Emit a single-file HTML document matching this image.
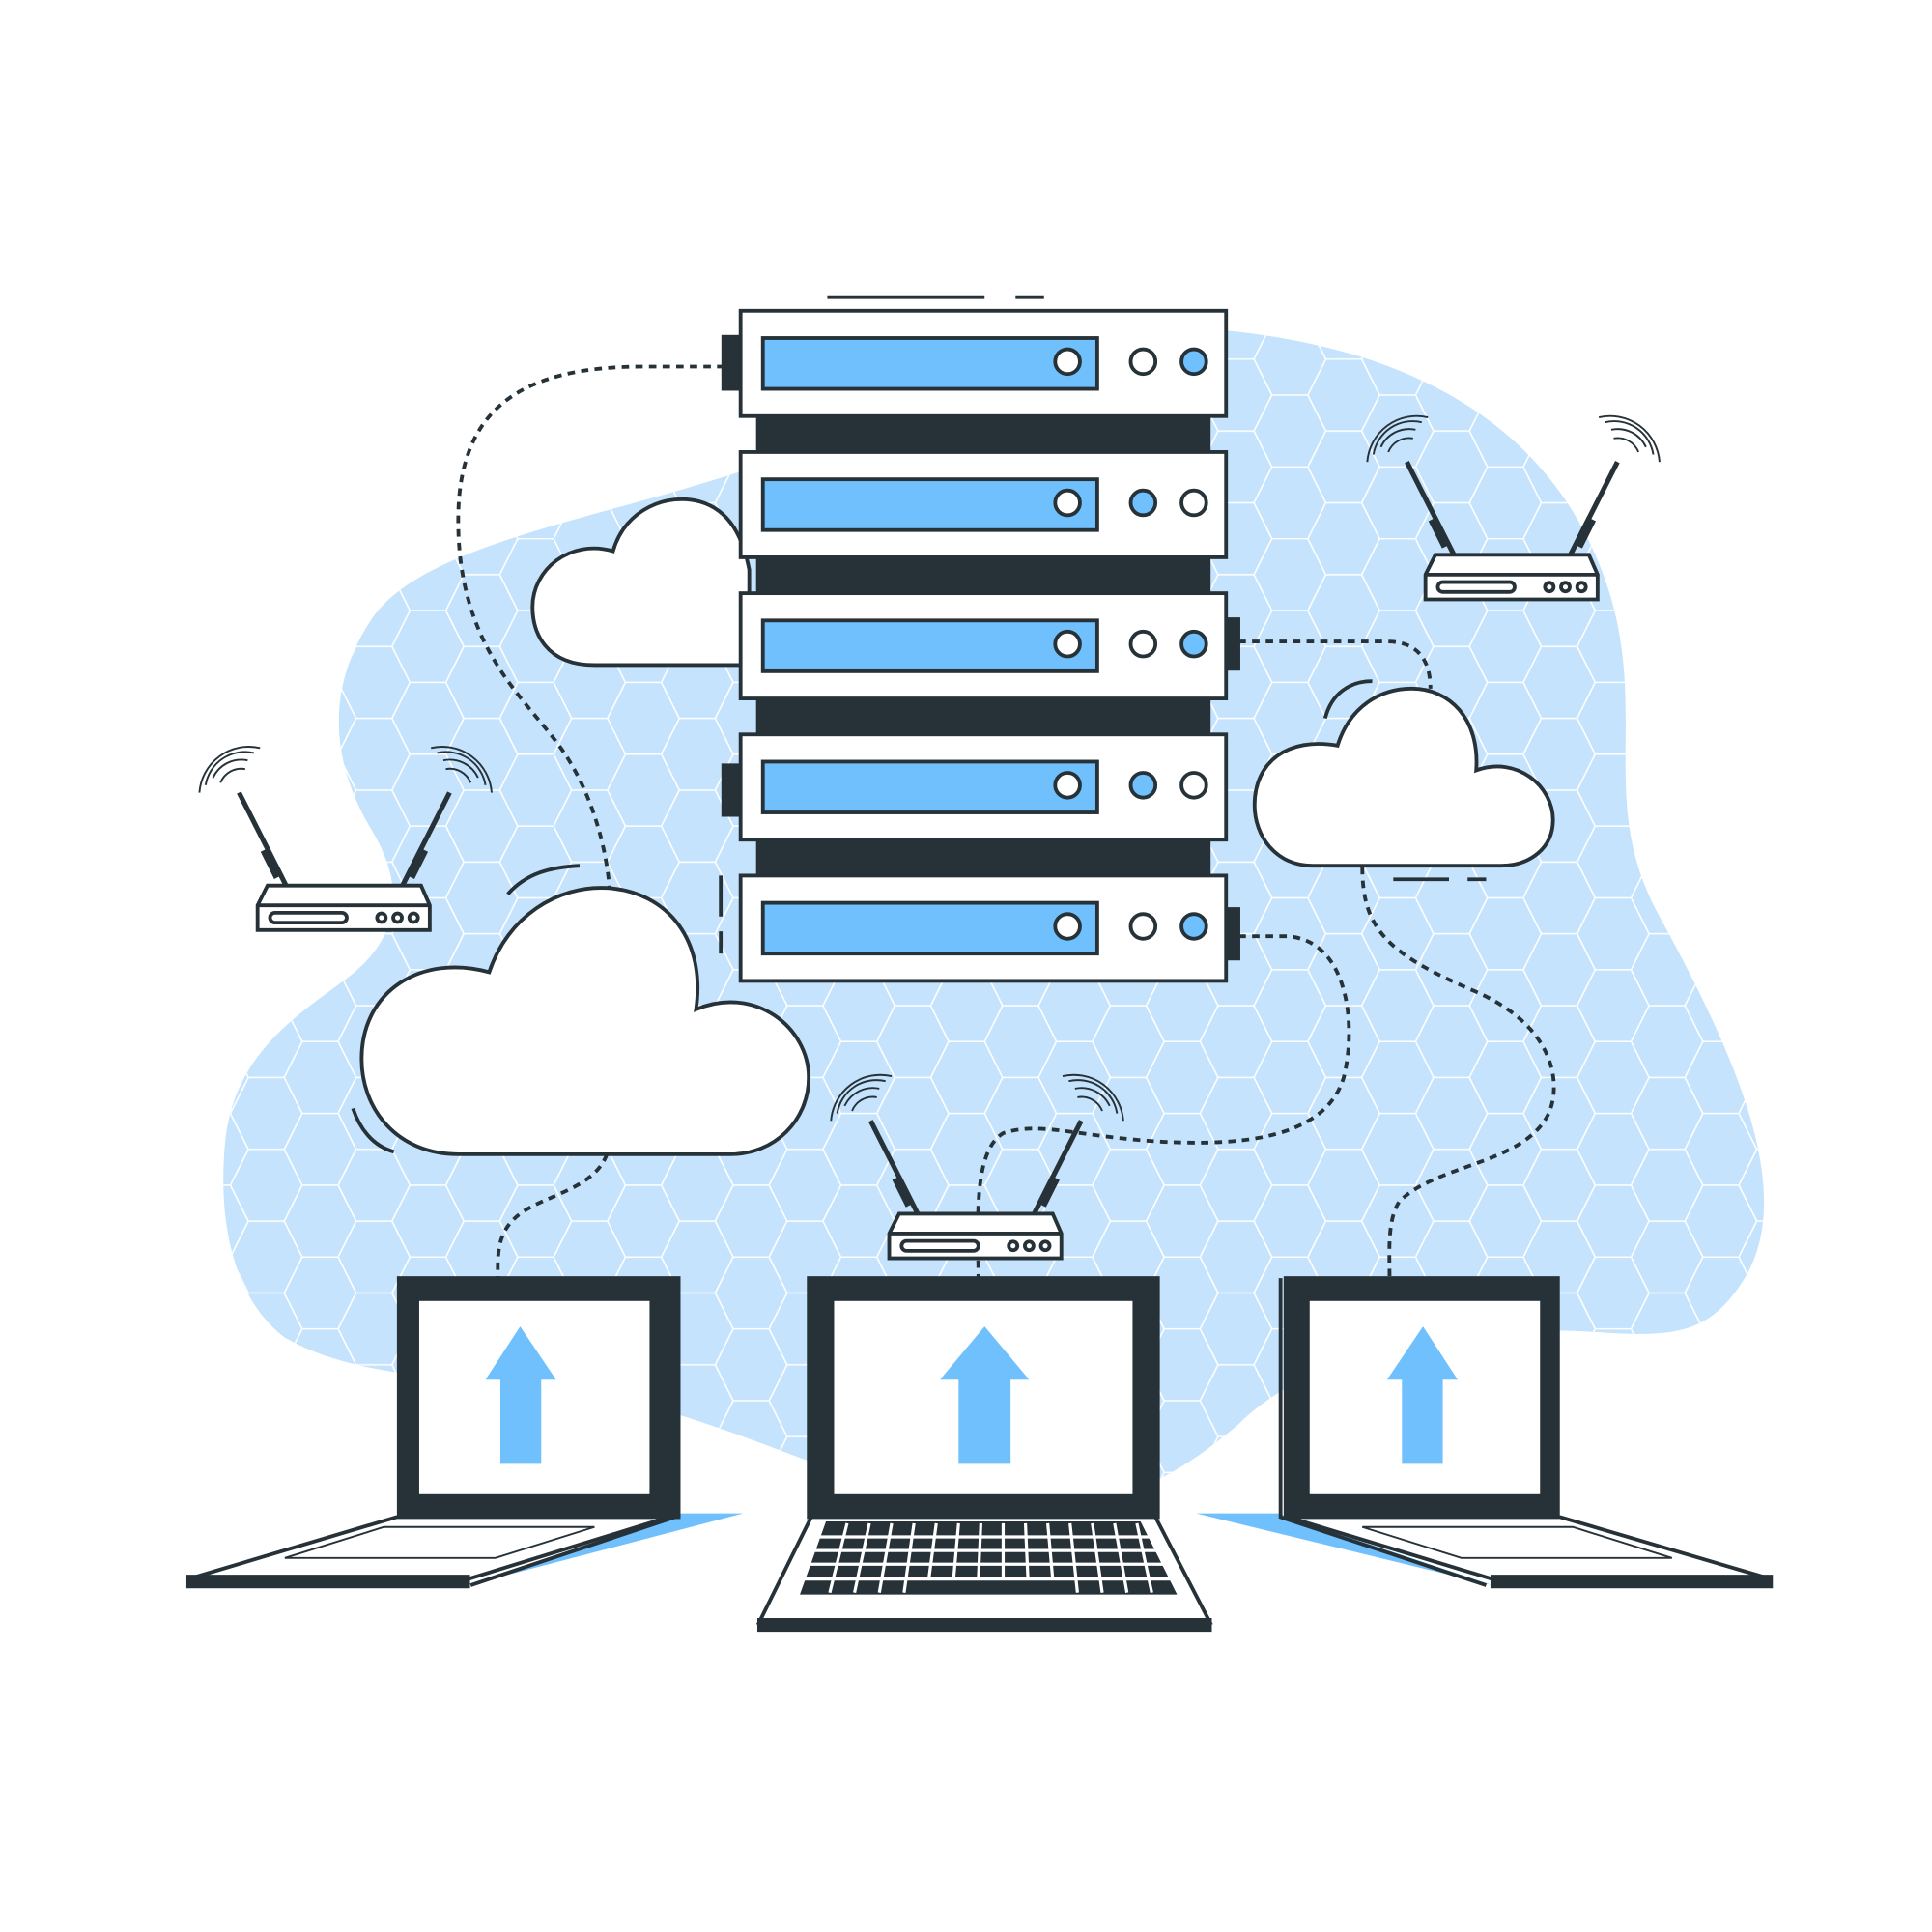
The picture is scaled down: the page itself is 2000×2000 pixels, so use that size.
<!DOCTYPE html>
<html><head><meta charset="utf-8"><style>html,body{margin:0;padding:0;background:#fff}svg{display:block}</style></head>
<body>
<svg width="2000" height="2000" viewBox="0 0 1560 1560" xmlns="http://www.w3.org/2000/svg">
<defs>
<pattern id="hex" width="87" height="58" patternUnits="userSpaceOnUse" patternTransform="translate(12 0)">
<path d="M0 29 L14.5 0 L43.5 0 L58 29 L43.5 58 L14.5 58 Z M58 29 L87 29" fill="none" stroke="#fff" stroke-width="1.2"/>
</pattern>
<clipPath id="blobc"><path id="bp" d="M600 380 C700 340 820 250 1000 268 C1150 285 1260 350 1300 480 C1330 580 1290 650 1340 740 C1400 850 1450 960 1410 1030 C1380 1080 1350 1080 1280 1075 C1150 1070 1050 1100 1000 1150 C930 1210 880 1220 800 1220 C700 1210 600 1150 500 1130 C400 1110 300 1120 230 1080 C190 1050 175 990 182 920 C190 850 240 820 280 790 C320 760 330 720 300 670 C270 620 260 560 300 500 C340 440 480 420 600 380 Z"/></clipPath>
</defs>
<g clip-path="url(#blobc)"><rect width="1560" height="1560" fill="#c5e3fc"/><rect width="1560" height="1560" fill="url(#hex)"/></g>

<g fill="none" stroke="#263238" stroke-width="3" stroke-dasharray="6 5">
<path d="M585 296 L520 296 C420 296 370 330 370 420 C370 520 420 560 450 600 C480 640 490 690 492 716"/>
<path d="M1000 518 L1120 518 C1150 518 1155 540 1155 556"/>
<path d="M1000 756 L1040 756 C1090 760 1095 830 1085 870 C1070 920 1000 925 940 922 C870 918 840 905 810 915 C785 930 790 990 790 1032"/>
<path d="M1100 700 C1100 750 1120 770 1190 800 C1260 830 1260 880 1250 900 C1230 940 1160 940 1130 970 C1120 985 1122 1010 1122 1032"/>
<path d="M490 932 C480 960 440 965 420 980 C400 995 402 1015 402 1032"/>
</g>
<g fill="none" stroke="#263238" stroke-width="3">
<path d="M668 240 H795 M820 240 H843 M1125 710 H1170 M1185 710 H1200"/>
<path d="M410 722 C425 705 445 700 468 699"/>
<path d="M1070 580 C1075 560 1090 550 1108 550"/>
<path d="M285 895 C290 910 300 925 318 930"/>
<path d="M582 707 V740 M582 752 V770"/>
</g>

<!-- clouds -->
<g fill="#fff" stroke="#263238" stroke-width="3">
<path d="M480 537 C440 537 430 510 430 490 C430 460 460 435 495 445 C505 410 540 398 565 405 C590 412 600 435 605 460 L605 537 Z"/>
<path d="M1060 699 C1030 699 1013 675 1013 650 C1013 615 1040 595 1080 602 C1090 570 1115 556 1140 556 C1170 556 1195 580 1192 622 C1225 610 1254 635 1254 662 C1254 685 1235 699 1212 699 Z"/>
<path d="M370 932 C320 932 292 895 292 855 C292 800 340 770 395 785 C410 740 450 715 490 717 C540 720 570 760 562 815 C610 795 653 830 653 870 C653 905 625 932 590 932 Z"/>
</g>

<!-- server -->
<g stroke="#263238" stroke-width="3">
<rect x="612" y="336" width="364" height="371" fill="#263238"/>
<rect x="584" y="272" width="14" height="42" fill="#263238"/>
<rect x="584" y="618" width="14" height="40" fill="#263238"/>
<rect x="990" y="500" width="10" height="40" fill="#263238"/>
<rect x="990" y="734" width="10" height="40" fill="#263238"/>
</g>
<g id="u" stroke="#263238" stroke-width="3">
<rect x="598" y="251" width="392" height="85" fill="#fff"/>
<rect x="616" y="273" width="270" height="41" fill="#6fc0fc"/>
<circle cx="862" cy="292" r="10" fill="#fff"/>
<circle cx="923" cy="292" r="10" fill="#fff"/>
<circle cx="964" cy="292" r="10" fill="#6fc0fc"/>
</g>
<g stroke="#263238" stroke-width="3">
<rect x="598" y="365" width="392" height="85" fill="#fff"/><rect x="616" y="387" width="270" height="41" fill="#6fc0fc"/><circle cx="862" cy="406" r="10" fill="#fff"/><circle cx="923" cy="406" r="10" fill="#6fc0fc"/><circle cx="964" cy="406" r="10" fill="#fff"/>
<rect x="598" y="479" width="392" height="85" fill="#fff"/><rect x="616" y="501" width="270" height="41" fill="#6fc0fc"/><circle cx="862" cy="520" r="10" fill="#fff"/><circle cx="923" cy="520" r="10" fill="#fff"/><circle cx="964" cy="520" r="10" fill="#6fc0fc"/>
<rect x="598" y="593" width="392" height="85" fill="#fff"/><rect x="616" y="615" width="270" height="41" fill="#6fc0fc"/><circle cx="862" cy="634" r="10" fill="#fff"/><circle cx="923" cy="634" r="10" fill="#6fc0fc"/><circle cx="964" cy="634" r="10" fill="#fff"/>
<rect x="598" y="707" width="392" height="85" fill="#fff"/><rect x="616" y="729" width="270" height="41" fill="#6fc0fc"/><circle cx="862" cy="748" r="10" fill="#fff"/><circle cx="923" cy="748" r="10" fill="#fff"/><circle cx="964" cy="748" r="10" fill="#6fc0fc"/>
</g>

<!-- routers -->
<g id="r" stroke="#263238" stroke-width="3" fill="#fff">
<line x1="193" y1="640" x2="232" y2="717" stroke-width="4"/>
<line x1="363" y1="640" x2="324" y2="717" stroke-width="4"/>
<line x1="214" y1="686" x2="225" y2="708" stroke-width="8"/>
<line x1="342" y1="686" x2="331" y2="708" stroke-width="8"/>
<path d="M216 715 H340 L347 731 V751 H208 V731 Z"/>
<line x1="208" y1="731" x2="347" y2="731"/>
<rect x="218" y="737" width="62" height="8" rx="4"/>
<circle cx="308" cy="741" r="3.5"/><circle cx="321" cy="741" r="3.5"/><circle cx="334" cy="741" r="3.5"/>
<g fill="none" stroke-width="1.5">
<path d="M172 628 A25 25 0 0 1 200 614"/><path d="M166 634 A32 32 0 0 1 205 608"/><path d="M178 632 A18 18 0 0 1 198 621"/><path d="M161 640 A40 40 0 0 1 210 604"/>
<path d="M386 628 A25 25 0 0 0 358 614"/><path d="M392 634 A32 32 0 0 0 353 608"/><path d="M380 632 A18 18 0 0 0 360 621"/><path d="M397 640 A40 40 0 0 0 348 604"/>
</g>
</g>
<use href="#r" transform="translate(943 -267)"/>
<use href="#r" transform="translate(510 265)"/>

<!-- laptops -->
<g stroke="#263238" stroke-width="3">
<path d="M548 1222 L600 1222 L378 1280 Z" fill="#6fc0fc" stroke="none"/>
<path d="M966 1222 L1032 1222 L1205 1280 Z" fill="#6fc0fc" stroke="none"/>
<!-- left -->
<rect x="322" y="1032" width="226" height="193" fill="#263238"/>
<rect x="337" y="1049" width="189" height="159" fill="#fff"/>
<path d="M320 1225 L540 1225 L378 1275 L152 1275 Z" fill="#fff"/>
<rect x="152" y="1273" width="226" height="8" fill="#263238"/>
<path d="M545 1032 V1225 L380 1280" fill="none"/>
<path d="M230 1258 L310 1233 L480 1233 L400 1258 Z" fill="#fff" stroke-width="1.5"/>
<!-- center -->
<rect x="653" y="1032" width="282" height="193" fill="#263238"/>
<rect x="672" y="1049" width="244" height="159" fill="#fff"/>
<path d="M655 1225 L933 1225 L977 1310 L613 1310 Z" fill="#fff"/>
<rect x="613" y="1308" width="364" height="8" fill="#263238"/>
<path d="M668 1230 L920 1230 L948 1286 L648 1286 Z" fill="#263238"/>
<!-- right -->
<rect x="1038" y="1032" width="220" height="193" fill="#263238"/>
<rect x="1056" y="1049" width="189" height="159" fill="#fff"/>
<path d="M1040 1225 L1260 1225 L1430 1275 L1205 1275 Z" fill="#fff"/>
<rect x="1205" y="1273" width="225" height="8" fill="#263238"/>
<path d="M1034 1032 V1225 L1200 1280" fill="none"/>
<path d="M1100 1233 L1270 1233 L1350 1258 L1180 1258 Z" fill="#fff" stroke-width="1.5"/>
</g>
<g fill="#fff">
<path id="kb" d="M0 0"/>
</g>
<g stroke="#fff" stroke-width="2.5">
<line x1="652" y1="1241" x2="936" y2="1241"/><line x1="656" y1="1252" x2="940" y2="1252"/><line x1="652" y1="1263" x2="944" y2="1263"/><line x1="648" y1="1275" x2="946" y2="1275"/>
<line x1="684" y1="1230" x2="670" y2="1286"/><line x1="702" y1="1230" x2="690" y2="1286"/><line x1="720" y1="1230" x2="710" y2="1286"/><line x1="738" y1="1230" x2="730" y2="1286"/><line x1="756" y1="1230" x2="750" y2="1275"/><line x1="774" y1="1230" x2="770" y2="1275"/><line x1="792" y1="1230" x2="790" y2="1275"/><line x1="810" y1="1230" x2="810" y2="1275"/><line x1="828" y1="1230" x2="830" y2="1275"/><line x1="846" y1="1230" x2="850" y2="1275"/><line x1="864" y1="1230" x2="870" y2="1286"/><line x1="882" y1="1230" x2="890" y2="1286"/><line x1="900" y1="1230" x2="910" y2="1286"/><line x1="918" y1="1230" x2="930" y2="1286"/>
</g>
<g fill="#6fc0fc">
<path d="M420 1071 L449 1114 L437 1114 L437 1182 L404 1182 L404 1114 L392 1114 Z"/>
<path d="M795 1071 L831 1114 L816 1114 L816 1182 L774 1182 L774 1114 L759 1114 Z"/>
<path d="M1149 1071 L1177 1114 L1165 1114 L1165 1182 L1132 1182 L1132 1114 L1120 1114 Z"/>
</g>
</svg>
</body></html>
